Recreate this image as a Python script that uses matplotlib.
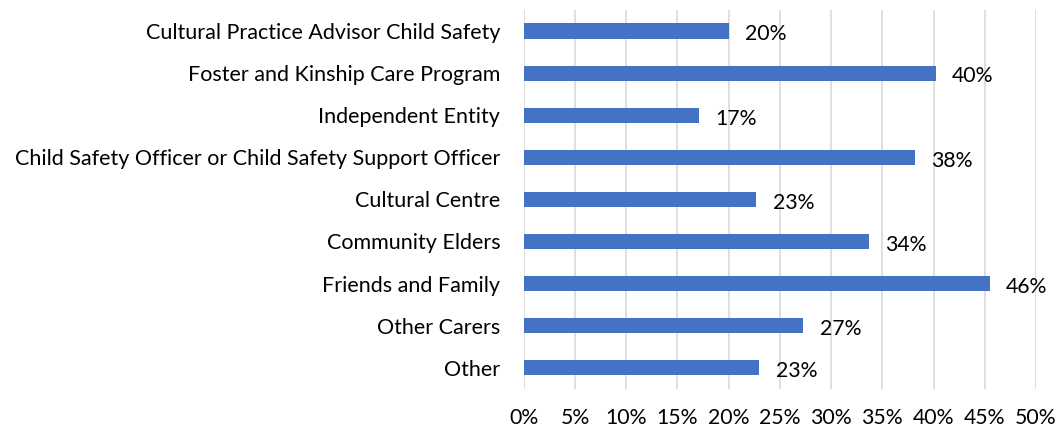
import matplotlib
matplotlib.use("Agg")
import matplotlib.pyplot as plt
from matplotlib.ticker import MultipleLocator, FuncFormatter

categories = [
    "Cultural Practice Advisor Child Safety",
    "Foster and Kinship Care Program",
    "Independent Entity",
    "Child Safety Officer or Child Safety Support Officer",
    "Cultural Centre",
    "Community Elders",
    "Friends and Family",
    "Other Carers",
    "Other",
]
values = [20.0, 40.2, 17.1, 38.2, 22.7, 33.7, 45.5, 27.3, 23.0]

plt.rcParams["font.family"] = ["Lato", "DejaVu Sans"]

fig = plt.figure(figsize=(10.56, 4.32), dpi=100)
ax = fig.add_axes([0.496, 0.1, 0.485, 0.877])

pos = list(range(len(categories)))[::-1]
ax.barh(pos, values, height=0.36, color="#4472C4", zorder=2)
for p, v in zip(pos, values):
    ax.text(v + 1.6, p - 0.08, f"{v:.0f}%", va="center", ha="left", fontsize=15.3)

ax.set_yticks(pos, categories, fontsize=15.5)
ax.set_ylim(-0.5, len(categories) - 0.5)
ax.set_xlim(0, 50)
ax.xaxis.set_major_locator(MultipleLocator(5))
ax.xaxis.set_major_formatter(FuncFormatter(lambda x, _: f"{x:.0f}%"))
ax.tick_params(axis="x", labelsize=15.3, length=0, pad=14)
ax.tick_params(axis="y", length=0, pad=17)
ax.grid(axis="x", color="#d9d9d9", linewidth=1.2, zorder=0)
for s in ax.spines.values():
    s.set_visible(False)

fig.savefig("out.png", dpi=100)
